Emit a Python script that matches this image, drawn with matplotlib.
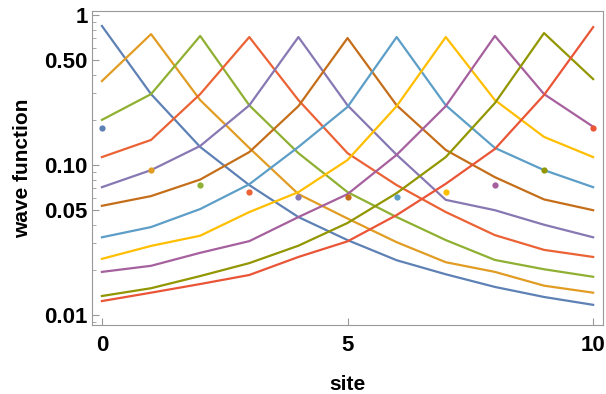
import numpy as np
import matplotlib.pyplot as plt
from matplotlib.ticker import FixedLocator, LogLocator, NullFormatter

plt.rcParams['font.family'] = ['Liberation Sans', 'DejaVu Sans']

sites = np.arange(11)

# one wave function per localisation centre
psi0 = [0.845, 0.297, 0.132, 0.0735, 0.045, 0.0316, 0.0232, 0.0187, 0.0154, 0.0132, 0.0117]
psi1 = [0.363, 0.746, 0.271, 0.13, 0.064, 0.044, 0.0306, 0.0225, 0.0194, 0.0157, 0.0141]
psi2 = [0.2, 0.297, 0.725, 0.25, 0.12, 0.066, 0.045, 0.0316, 0.0233, 0.0202, 0.018]
psi3 = [0.113, 0.147, 0.297, 0.713, 0.271, 0.12, 0.0735, 0.0486, 0.0341, 0.0272, 0.0244]
psi4 = [0.0712, 0.0925, 0.134, 0.25, 0.713, 0.25, 0.117, 0.0586, 0.05, 0.04, 0.033]
psi5 = [0.0535, 0.0621, 0.08, 0.122, 0.247, 0.702, 0.25, 0.126, 0.083, 0.059, 0.05]
psi6 = [0.033, 0.0386, 0.0509, 0.0745, 0.132, 0.244, 0.713, 0.25, 0.13, 0.0925, 0.0712]
psi7 = [0.0237, 0.0289, 0.0338, 0.0486, 0.066, 0.108, 0.247, 0.713, 0.271, 0.154, 0.113]
psi8 = [0.0194, 0.0213, 0.026, 0.0311, 0.045, 0.064, 0.117, 0.247, 0.725, 0.297, 0.18]
psi9 = [0.0134, 0.0151, 0.0182, 0.0222, 0.029, 0.0411, 0.065, 0.113, 0.259, 0.758, 0.374]
psi10 = [0.0124, 0.0141, 0.0161, 0.0185, 0.0244, 0.031, 0.0464, 0.075, 0.128, 0.293, 0.83]
waves = [psi0, psi1, psi2, psi3, psi4, psi5, psi6, psi7, psi8, psi9, psi10]

# single points, one per site
dots = [0.176, 0.0925, 0.0735, 0.066, 0.0613, 0.0613, 0.0613, 0.066, 0.0735, 0.0925, 0.176]

colors = ['#5E81B5', '#E19C24', '#8FB032', '#EB6235', '#8778B3', '#C56E1A',
          '#5D9EC7', '#FFBF00', '#A5609D', '#929600', '#E95536']

fig = plt.figure(figsize=(6.06, 3.94), dpi=100)
ax = fig.add_axes([0.152, 0.175, 0.843, 0.797])

for w, c in zip(waves, colors):
    ax.plot(sites, w, color=c, lw=1.6)
for s, d, c in zip(sites, dots, colors):
    ax.plot(s, d, 'o', color=c, ms=4.5, mec='none')

ax.set_yscale('log')
ax.set_xlim(-0.2, 10.2)
ax.set_ylim(0.00858, 1.063)

ax.xaxis.set_major_locator(FixedLocator([0, 5, 10]))
ax.yaxis.set_major_locator(FixedLocator([0.01, 0.05, 0.1, 0.5, 1]))
ax.set_yticklabels(['0.01', '0.05', '0.10', '0.50', '1'])
ax.yaxis.set_minor_locator(LogLocator(base=10, subs=np.arange(1, 10)))
ax.yaxis.set_minor_formatter(NullFormatter())

for sp in ax.spines.values():
    sp.set_color('#999999')
ax.tick_params(which='both', direction='in', color='#999999', top=False, right=False)
ax.tick_params(which='major', length=5, labelsize=16)
ax.tick_params(axis='x', pad=7)
ax.tick_params(axis='y', pad=3)
ax.tick_params(which='minor', length=3)
for t in ax.get_xticklabels() + ax.get_yticklabels():
    t.set_fontweight('bold')

ax.set_xlabel('site', fontsize=15, fontweight='bold', labelpad=14)
ax.set_ylabel('wave function', fontsize=15, fontweight='bold', labelpad=9)

fig.savefig('out.png')
